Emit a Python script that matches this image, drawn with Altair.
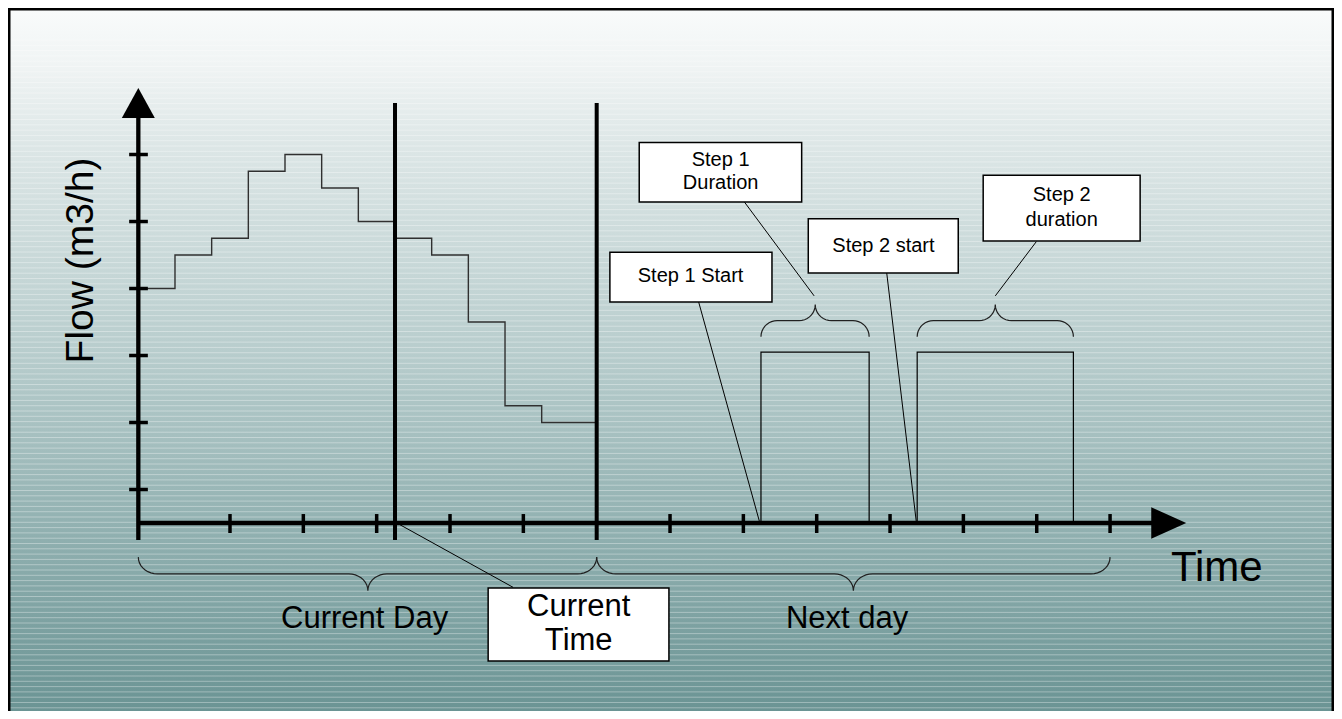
import altair as alt
import pandas as pd
import numpy as np

# ---------------- data (time unit = half a tick, 0 = start of next day; flow unit: ticks at .5 .. 5.5)
step_t = [-12.5, -11.5, -10.5, -9.5, -8.5, -7.5, -6.5, -5.5, -4.5, -3.5, -2.5, -1.5, 0.0]
step_flow = [3.5, 4.0, 4.25, 5.25, 5.5, 5.0, 4.5, 4.25, 4.0, 3.0, 1.75, 1.5, 1.5]

pulse_start = [4.48, 8.74]
pulse_end = [7.43, 13.0]
pulse_flow = [2.55, 2.55]

x_ticks = [-10, -8, -6, -4, -2, 2, 4, 6, 8, 10, 12, 14]
y_ticks = [0.5, 1.5, 2.5, 3.5, 4.5, 5.5]
axis_start = -12.5
current_time = -5.5
day_boundary = 0.0
day_end = 14.0

# annotation boxes: label lines, box extents, text positions
box_x1 = [1.16, 0.36, 5.77, 10.54, -2.96]
box_x2 = [5.59, 4.78, 9.86, 14.82, 1.97]
box_y1 = [5.68, 4.04, 4.54, 5.19, -0.97]
box_y2 = [4.79, 3.30, 3.73, 4.21, -2.06]

small_text = ["Step 1", "Duration", "Step 1 Start", "Step 2 start", "Step 2", "duration"]
small_text_x = [3.38, 3.38, 2.56, 7.82, 12.68, 12.68]
small_text_y = [5.42, 5.07, 3.68, 4.14, 4.89, 4.53]

ct_text = ["Current", "Time"]
ct_text_x = [-0.49, -0.49]
ct_text_y = [-1.25, -1.76]

# leader lines
lead_x1 = [-5.45, 2.78, 4.03, 7.91, 11.99]
lead_y1 = [0.0, 3.30, 4.79, 3.73, 4.20]
lead_x2 = [-2.28, 4.45, 5.93, 8.72, 10.87]
lead_y2 = [-0.96, 0.0, 3.39, 0.0, 3.39]

# braces: start, end, tip, line level, direction (+1 ends point up)
brace_x0 = [-12.5, 0.0, 4.48, 8.74]
brace_x1 = [0.0, 14.0, 7.43, 13.0]
brace_xc = [-6.24, 7.0, 5.96, 10.87]
brace_line = [-0.76, -0.76, 3.02, 3.02]
brace_dir = [1, 1, -1, -1]
brace_rx = [0.52, 0.52, 0.44, 0.44]
brace_ry = [0.25, 0.25, 0.24, 0.24]

# ---------------- layout
XMIN, XMAX = -16.054, 20.107
YMIN, YMAX = -2.806, 7.687
W, H = 1326, 703
FONT = "Liberation Sans"

xsc = alt.Scale(domain=[XMIN, XMAX], nice=False, zero=False)
ysc = alt.Scale(domain=[YMIN, YMAX], nice=False, zero=False)


def X(f="x"):
    return alt.X(f"{f}:Q", scale=xsc, axis=None)


def Y(f="y"):
    return alt.Y(f"{f}:Q", scale=ysc, axis=None)


# background gradient
bg_df = pd.DataFrame({"x": [XMIN], "x2": [XMAX], "y": [YMIN], "y2": [YMAX]})
grad = alt.Gradient(
    gradient="linear",
    stops=[
        alt.GradientStop(color="#f9fbfb", offset=0.0),
        alt.GradientStop(color="#f0f4f4", offset=0.08),
        alt.GradientStop(color="#dce6e6", offset=0.2),
        alt.GradientStop(color="#b8cdcd", offset=0.49),
        alt.GradientStop(color="#93b2b2", offset=0.73),
        alt.GradientStop(color="#6b9494", offset=1.0),
    ],
    x1=0, x2=0, y1=0, y2=1,
)
bg = alt.Chart(bg_df).mark_rect(color=grad).encode(
    x=X(), x2="x2:Q", y=Y(), y2="y2:Q")

# horizontal banding texture
stripe_y = [(523 - p) / 67 for p in np.arange(40, 712, 5.3)]
stripes = alt.Chart(pd.DataFrame({"y": stripe_y})).mark_rule(
    color="white", opacity=0.34, strokeWidth=1).encode(
    x=alt.value(0), x2=alt.value(W), y=Y())

# frame
frame_df = pd.DataFrame({"x": [XMIN], "x2": [XMAX], "y": [YMIN - 1], "y2": [YMAX]})
frame = alt.Chart(frame_df).mark_rect(
    fillOpacity=0, stroke="black", strokeWidth=5).encode(
    x=X(), x2="x2:Q", y=Y(), y2="y2:Q")

# axes
axes_df = pd.DataFrame({
    "x": [axis_start, axis_start],
    "x2": [axis_start, 15.2],
    "y": [-0.254, 0.0],
    "y2": [6.1, 0.0],
})
axes = alt.Chart(axes_df).mark_rule(color="black", strokeWidth=4.3).encode(
    x=X(), x2="x2:Q", y=Y(), y2="y2:Q")

arrow_df = pd.DataFrame({"x": [axis_start], "y": [6.269]})
arrow_up = alt.Chart(arrow_df).mark_point(
    shape="M0,-1L1.1,1L-1.1,1Z", size=900, filled=True, color="black", opacity=1).encode(
    x=X(), y=Y())
arrow_r_df = pd.DataFrame({"x": [15.6], "y": [0.0]})
arrow_right = alt.Chart(arrow_r_df).mark_point(
    shape="M1,0L-1,-0.9L-1,0.9Z", size=1225, filled=True, color="black", opacity=1).encode(
    x=X(), y=Y())

# ticks
yt_df = pd.DataFrame({"y": y_ticks, "x": [-12.75] * 6, "x2": [-12.24] * 6})
yticks = alt.Chart(yt_df).mark_rule(color="black", strokeWidth=3.5).encode(
    x=X(), x2="x2:Q", y=Y())
xt_df = pd.DataFrame({"x": x_ticks, "y": [0.134] * len(x_ticks), "y2": [-0.149] * len(x_ticks)})
xticks = alt.Chart(xt_df).mark_rule(color="black", strokeWidth=3.5).encode(
    x=X(), y=Y(), y2="y2:Q")

# current time / day boundary lines
vl_df = pd.DataFrame({"x": [current_time, day_boundary], "y": [6.27, 6.27], "y2": [-0.254, -0.254]})
vlines = alt.Chart(vl_df).mark_rule(color="black", strokeWidth=4).encode(
    x=X(), y=Y(), y2="y2:Q")

# measured flow (step line)
step_df = pd.DataFrame({"x": step_t, "y": step_flow})
steps = alt.Chart(step_df).mark_line(
    interpolate="step-after", color="#303030", strokeWidth=1.4).encode(x=X(), y=Y())

# planned steps (pulses)
pulse_df = pd.DataFrame({"x": pulse_start, "x2": pulse_end,
                         "y": [0.0, 0.0], "y2": pulse_flow})
pulses = alt.Chart(pulse_df).mark_rect(
    fillOpacity=0, stroke="black", strokeWidth=1.2).encode(
    x=X(), x2="x2:Q", y=Y(), y2="y2:Q")

# braces (curly brackets drawn as arcs)
rows = []
a = np.linspace(0, np.pi / 2, 10)
for b in range(len(brace_x0)):
    x0, x1, xc, yl, s = brace_x0[b], brace_x1[b], brace_xc[b], brace_line[b], brace_dir[b]
    rx, ry = brace_rx[b], brace_ry[b]
    pts = []
    cx, cy = x0 + rx, yl + s * ry
    pts += [(cx - rx * np.cos(t), cy - s * ry * np.sin(t)) for t in a]
    cx, cy = xc - rx, yl - s * ry
    pts += [(cx + rx * np.sin(t), cy + s * ry * np.cos(t)) for t in a]
    cx, cy = xc + rx, yl - s * ry
    pts += [(cx - rx * np.cos(t), cy + s * ry * np.sin(t)) for t in a]
    cx, cy = x1 - rx, yl + s * ry
    pts += [(cx + rx * np.sin(t), cy - s * ry * np.cos(t)) for t in a]
    for i, (px, py) in enumerate(pts):
        rows.append({"b": b, "o": i, "x": px, "y": py})
brace_df = pd.DataFrame(rows)
braces = alt.Chart(brace_df).mark_line(color="#202020", strokeWidth=1.2).encode(
    x=X(), y=Y(), detail="b:N", order="o:Q")

# leader lines
lead_df = pd.DataFrame({"x": lead_x1, "y": lead_y1, "x2": lead_x2, "y2": lead_y2})
leaders = alt.Chart(lead_df).mark_rule(color="black", strokeWidth=1).encode(
    x=X(), y=Y(), x2="x2:Q", y2="y2:Q")

# boxes
box_df = pd.DataFrame({"x": box_x1, "x2": box_x2, "y": box_y1, "y2": box_y2})
boxes = alt.Chart(box_df).mark_rect(
    fill="white", stroke="black", strokeWidth=1.5).encode(
    x=X(), x2="x2:Q", y=Y(), y2="y2:Q")

# texts
st_df = pd.DataFrame({"x": small_text_x, "y": small_text_y, "t": small_text})
stexts = alt.Chart(st_df).mark_text(
    font=FONT, fontSize=20, baseline="middle", align="center", color="black").encode(
    x=X(), y=Y(), text="t:N")

ct_df = pd.DataFrame({"x": ct_text_x, "y": ct_text_y, "t": ct_text})
cttexts = alt.Chart(ct_df).mark_text(
    font=FONT, fontSize=31, baseline="middle", align="center", color="black").encode(
    x=X(), y=Y(), text="t:N")

day_df = pd.DataFrame({"x": [-6.33, 6.83], "y": [-1.567, -1.563], "t": ["Current Day", "Next day"]})
daytexts = alt.Chart(day_df).mark_text(
    font=FONT, fontSize=31, baseline="alphabetic", align="center", color="black").encode(
    x=X(), y=Y(), text="t:N")

time_df = pd.DataFrame({"x": [16.91], "y": [-0.873], "t": ["Time"]})
timetext = alt.Chart(time_df).mark_text(
    font=FONT, fontSize=42, baseline="alphabetic", align="center", color="black").encode(
    x=X(), y=Y(), text="t:N")

flow_df = pd.DataFrame({"x": [-13.73], "y": [3.918], "t": ["Flow (m3/h)"]})
flowtext = alt.Chart(flow_df).mark_text(
    font=FONT, fontSize=39, baseline="alphabetic", align="center", angle=270,
    color="black").encode(x=X(), y=Y(), text="t:N")

chart = alt.layer(
    bg, stripes, frame, steps, pulses, braces, leaders, boxes,
    axes, yticks, xticks, vlines, arrow_up, arrow_right,
    stexts, cttexts, daytexts, timetext, flowtext,
).properties(
    width=W, height=H, padding=0,
    autosize=alt.AutoSizeParams(type="none"),
).configure_view(stroke=None)

chart.save("out.html", embed_options={"renderer": "svg", "actions": False})
